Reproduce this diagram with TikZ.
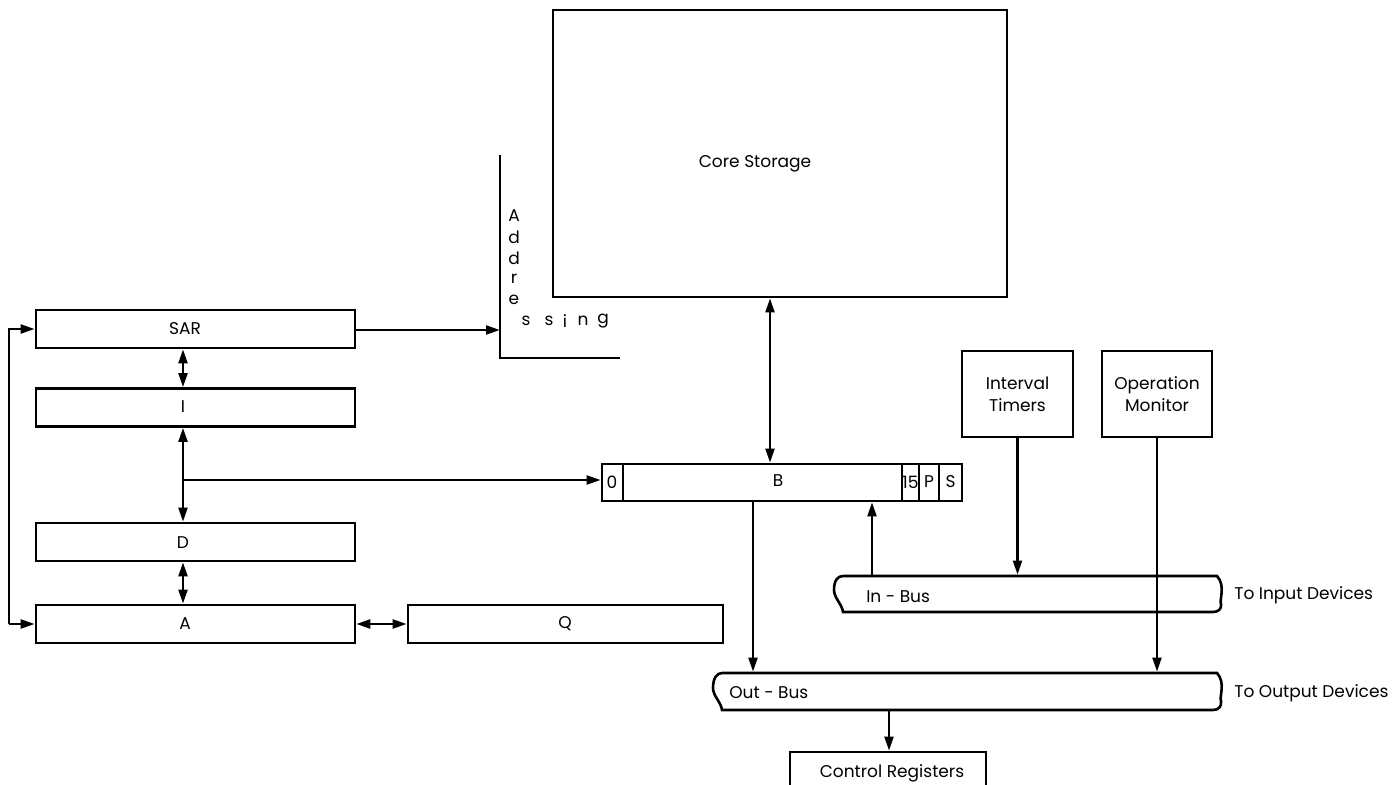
\documentclass[tikz,border=0pt]{standalone}
\usepackage{fontspec}
\setmainfont{Poppins}
\usetikzlibrary{arrows.meta}
\begin{document}
\begin{tikzpicture}[x=0.5pt,y=-0.5pt,
  line width=1.3pt,
  every node/.style={font=\fontsize{8.5}{10}\selectfont},
  reg/.style={draw,rectangle,inner sep=0pt,minimum height=19pt,minimum width=159.5pt},
  blank/.style={draw,rectangle,inner sep=0pt},
  ghost/.style={draw=none,rectangle,inner sep=0pt},
  lbl/.style={inner sep=0pt},
  arr/.style={-{Triangle[length=7pt,width=4.4pt]}},
  darr/.style={{Triangle[length=7pt,width=4.4pt]}-{Triangle[length=7pt,width=4.4pt]}}
]
\useasboundingbox (0,0) rectangle (1396,785);
\clip (0,0) rectangle (1396,785);

% core storage
\node[blank,minimum width=227pt,minimum height=143.5pt] (core) at (780,153.5) {};
\node[lbl] (coret) at (755,164) {Core Storage};

% addressing
\coordinate (adtop) at (500,155);
\coordinate (adcorner) at (500,358);
\coordinate (adend) at (620,358);
\draw (adtop) -- (adcorner) -- (adend);
\node[lbl] (a1) at (514,216) {A};
\node[lbl] (a2) at (514,237) {d};
\node[lbl] (a3) at (514,258) {d};
\node[lbl] (a4) at (514,279) {r};
\node[lbl] (a5) at (514,300) {e};
\node[lbl] (a6) at (526,321) {s};
\node[lbl] (a7) at (549,321) {s};
\node[lbl] (a8) at (565,321) {i};
\node[lbl] (a9) at (583,321) {n};
\node[lbl] (a10) at (603,321) {g};

% registers
\node[reg] (sar) at (195.5,329) {};
\node[lbl] at (185,329) {SAR};
\node[reg] (ireg) at (195.5,407.5) {};
\node[lbl] at (183,407) {I};
\node[reg] (dreg) at (195.5,542) {};
\node[lbl] at (183,543) {D};
\node[reg] (areg) at (195.5,624) {};
\node[lbl] at (185,624) {A};
\node[reg,minimum width=157.5pt] (qreg) at (565.5,624) {};
\node[lbl] at (565,624) {Q};

% B register
\node[blank,minimum width=180pt,minimum height=18.5pt] (breg) at (782,482.5) {};
\draw (623,464) -- (623,501);
\draw (902,464) -- (902,501);
\draw (919,464) -- (919,501);
\draw (939,464) -- (939,501);
\node[lbl] at (612,482) {0};
\node[lbl] at (778,481) {B};
\node[lbl] at (910.5,482) {15};
\node[lbl] at (929,482) {P};
\node[lbl] at (950.5,482) {S};

% timers, monitor
\node[blank,minimum width=55.5pt,minimum height=43pt,align=center] (timer) at (1017.5,394) {Interval\\[1pt]Timers};
\node[blank,minimum width=55pt,minimum height=43pt,align=center] (opmon) at (1157,394) {Operation\\[1pt]Monitor};

% control registers
\node[blank,minimum width=98pt,minimum height=24pt] (ctrl) at (888,776) {};
\node[lbl] at (892,773) {Control Registers};

% buses
\node[ghost,minimum width=188pt,minimum height=17.5pt] (inbus) at (1028,593.5) {};
\node[ghost,minimum width=249pt,minimum height=18.5pt] (outbus) at (967,691.5) {};
\draw (843,576) -- (1217,576)
  .. controls (1226,586) and (1219,600) .. (1221,604)
  .. controls (1222,609) and (1218,612) .. (1213,612) -- (843,612)
  .. controls (842,604) and (834,598) .. (834,590)
  .. controls (834,580) and (838,576) .. (843,576);
\draw (722,673) -- (1217,673)
  .. controls (1226,683) and (1219,697) .. (1221,701)
  .. controls (1222,707) and (1218,710) .. (1213,710) -- (722,710)
  .. controls (721,702) and (713,696) .. (713,688)
  .. controls (713,678) and (717,673) .. (722,673);
\node[lbl,anchor=west] at (865,597) {In - Bus};
\node[lbl,anchor=west] at (728,693) {Out - Bus};
\node[lbl,anchor=west] at (1233,595) {To Input Devices};
\node[lbl,anchor=west] at (1233,693) {To Output Devices};

% connectors
\draw[arr] (sar.east |- 0,330) -- (adcorner |- 0,330);
\draw[darr] (sar.south -| 183,0) -- (ireg.north -| 183,0);
\draw[darr] (ireg.south -| 183,0) -- (dreg.north -| 183,0);
\coordinate (br) at (183,480);
\draw[arr] (br) -- (breg.west |- br);
\draw[darr] (dreg.south -| 183,0) -- (areg.north -| 183,0);
\draw[darr] (areg.east) -- (qreg.west);
\coordinate (lp1) at (9,624);
\coordinate (lp2) at (9,329);
\draw[arr] (lp1) -- (lp2) -- (sar.west);
\draw[arr] (lp1) -- (areg.west);
\draw[darr] (core.south -| 770,0) -- (breg.north -| 770,0);
\draw[arr] (breg.south -| 753,0) -- (outbus.north -| 753,0);
\draw[arr] (inbus.north -| 872,0) -- (breg.south -| 872,0);
\draw[arr] (timer.south) -- (timer.south |- inbus.north);
\draw[arr] (opmon.south) -- (opmon.south |- outbus.north);
\draw[arr] (outbus.south -| 889,0) -- (ctrl.north -| 889,0);
\end{tikzpicture}
\end{document}
